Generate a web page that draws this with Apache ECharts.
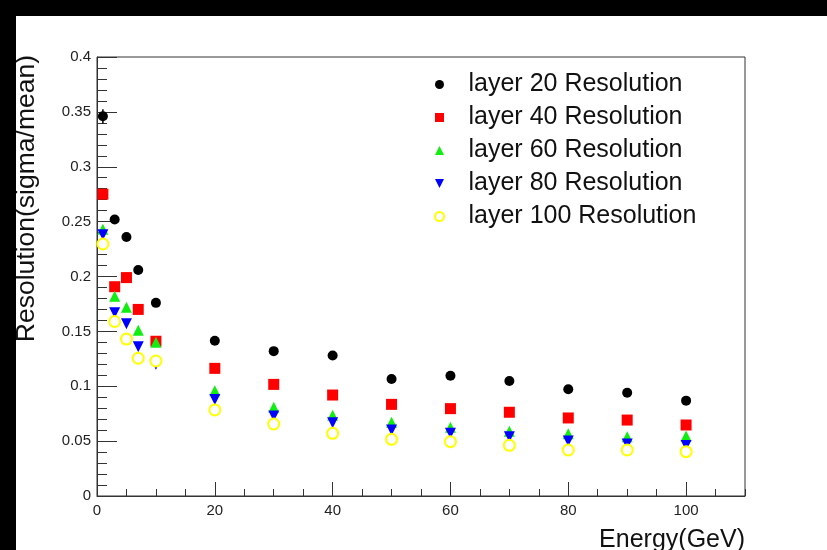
<!DOCTYPE html>
<html>
<head>
<meta charset="utf-8">
<script src="https://cdn.jsdelivr.net/npm/echarts@6/dist/echarts.min.js"></script>
<style>
html,body{margin:0;padding:0;background:#fff;}
#c{width:827px;height:550px;}
</style>
</head>
<body>
<div id="c"></div>
<script>
const energy = [1, 3, 5, 7, 10, 20, 30, 40, 50, 60, 70, 80, 90, 100];
const layer20 = [0.346, 0.252, 0.236, 0.206, 0.176, 0.1415, 0.132, 0.128, 0.1066, 0.1096, 0.1048, 0.0972, 0.0941, 0.0869];
const layer20Err = [0.0065, 0, 0, 0, 0, 0, 0, 0, 0, 0, 0, 0, 0, 0];
const layer40 = [0.275, 0.1907, 0.199, 0.170, 0.141, 0.1163, 0.1017, 0.092, 0.0835, 0.0796, 0.0763, 0.0711, 0.0692, 0.0647];
const layer60 = [0.243, 0.182, 0.172, 0.151, 0.140, 0.096, 0.0808, 0.0735, 0.0671, 0.0626, 0.059, 0.0568, 0.054, 0.0547];
const layer80 = [0.238, 0.167, 0.157, 0.136, 0.120, 0.088, 0.0729, 0.0668, 0.0601, 0.0571, 0.054, 0.0501, 0.0474, 0.0459];
const layer100 = [0.2296, 0.159, 0.143, 0.1255, 0.123, 0.0784, 0.0656, 0.0571, 0.0516, 0.0495, 0.0462, 0.0419, 0.0419, 0.0404];
const seriesNames = ['layer 20 Resolution', 'layer 40 Resolution', 'layer 60 Resolution', 'layer 80 Resolution', 'layer 100 Resolution'];
const xTitle = 'Energy(GeV)';
const yTitle = 'Resolution(sigma/mean)';

const FONT = '"Liberation Sans", Arial, Helvetica, sans-serif';
const pts = arr => energy.map((e, i) => [e, arr[i]]);
const squarePath = 'path://M0,0L10,0L10,10L0,10Z';
const upTri = 'path://M5,0L10,10L0,10Z';
const downTri = 'path://M0,0L10,0L5,10Z';
const legendIcons = ['circle', squarePath, upTri, downTri, 'emptyCircle'];

const chart = echarts.init(document.getElementById('c'), null, {renderer: 'canvas'});
chart.setOption({
  backgroundColor: '#fff',
  animation: false,
  grid: {left: 97, top: 57, right: 82, bottom: 54, show: true, borderColor: '#333', borderWidth: 1, backgroundColor: 'transparent', containLabel: false},
  xAxis: [{
    type: 'value', min: 0, max: 110, interval: 20, position: 'bottom',
    axisLine: {show: true, onZero: false, lineStyle: {color: '#333', width: 1}},
    axisTick: {show: true, inside: true, length: 14, lineStyle: {color: '#333', width: 1}},
    axisLabel: {fontSize: 15, color: '#222', fontFamily: FONT, margin: 7, showMaxLabel: false},
    splitLine: {show: false}
  }, {
    type: 'value', min: 0, max: 110, interval: 5, position: 'bottom',
    axisLine: {show: false, onZero: false},
    axisTick: {show: true, inside: true, length: 7, lineStyle: {color: '#333', width: 1}},
    axisLabel: {show: false},
    splitLine: {show: false}
  }],
  yAxis: {
    type: 'value', min: 0, max: 0.4, interval: 0.05,
    axisLine: {show: true, onZero: false, lineStyle: {color: '#333', width: 1}},
    axisTick: {show: true, inside: true, length: 20, lineStyle: {color: '#333', width: 1}},
    minorTick: {show: true, splitNumber: 5, length: 10, lineStyle: {color: '#333', width: 1}},
    axisLabel: {fontSize: 15, color: '#222', fontFamily: FONT, margin: 6},
    splitLine: {show: false},
    minorSplitLine: {show: false}
  },
  legend: {
    orient: 'vertical', left: 434, top: 72, padding: 0,
    itemWidth: 48, itemHeight: 9, itemGap: 8,
    textStyle: {fontSize: 25, color: '#111', fontFamily: FONT},
    data: seriesNames.map((n, i) => ({name: n, icon: legendIcons[i]}))
  },
  series: [
    {name: seriesNames[0], type: 'scatter', data: pts(layer20), symbol: 'circle', symbolSize: 10, itemStyle: {color: '#000', opacity: 1}},
    {name: seriesNames[1], type: 'scatter', data: pts(layer40), symbol: 'rect', symbolSize: 11, itemStyle: {color: '#ff0000', opacity: 1}},
    {name: seriesNames[2], type: 'scatter', data: pts(layer60), symbol: upTri, symbolSize: 11, itemStyle: {color: '#11ee11', opacity: 1}},
    {name: seriesNames[3], type: 'scatter', data: pts(layer80), symbol: downTri, symbolSize: 11, itemStyle: {color: '#0000ff', opacity: 1}},
    {name: seriesNames[4], type: 'scatter', data: pts(layer100), symbol: 'emptyCircle', symbolSize: 11, itemStyle: {color: '#ffff00', borderColor: '#ffff00', borderWidth: 1.6, opacity: 1}},
    {
      type: 'custom', name: 'err20', silent: true,
      data: energy.map((e, i) => [e, layer20[i], layer20Err[i]]),
      renderItem: function (params, api) {
        const x = api.value(0), y = api.value(1), err = api.value(2);
        if (!err) return null;
        const p1 = api.coord([x, y - err]);
        const p2 = api.coord([x, y + err]);
        return {type: 'line', shape: {x1: p1[0], y1: p1[1], x2: p2[0], y2: p2[1]}, style: {stroke: '#000', lineWidth: 1.5}};
      },
      z: 1
    }
  ],
  graphic: [
    {type: 'text', x: 27, y: 55, rotation: Math.PI / 2, style: {text: yTitle, fontSize: 26.5, fontFamily: FONT, fill: '#111', align: 'right', verticalAlign: 'middle'}},
    {type: 'text', x: 745, y: 540, style: {text: xTitle, fontSize: 25, fontFamily: FONT, fill: '#111', align: 'right', verticalAlign: 'middle'}},
    {type: 'rect', left: 0, top: 0, shape: {width: 827, height: 16}, style: {fill: '#000'}, z: 100},
    {type: 'rect', left: 0, top: 0, shape: {width: 16, height: 550}, style: {fill: '#000'}, z: 100}
  ]
});
</script>
</body>
</html>
